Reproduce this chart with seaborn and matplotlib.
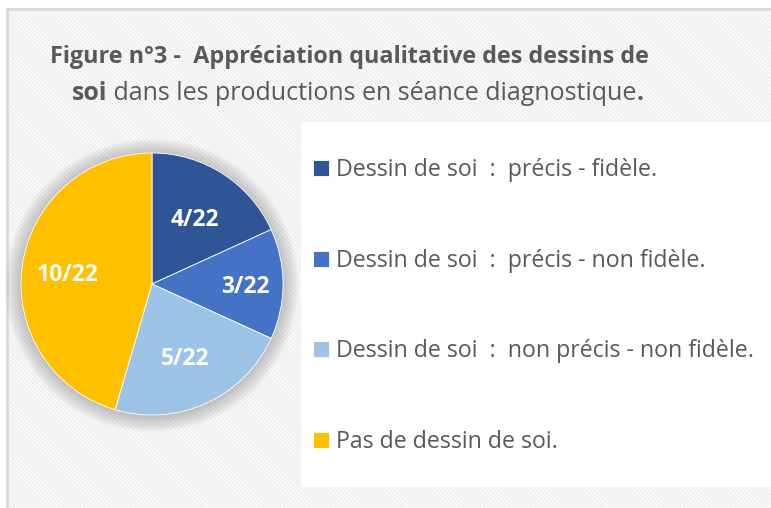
import numpy as np
import seaborn as sns
import matplotlib.pyplot as plt
from matplotlib.patches import Rectangle, Circle

# data
categories = ["Dessin de soi  :  précis - fidèle.",
              "Dessin de soi  :  précis - non fidèle.",
              "Dessin de soi  :  non précis - non fidèle.",
              "Pas de dessin de soi."]
counts = [4, 3, 5, 10]
total = 22
colors = ["#2F5597", "#4472C4", "#9DC3E6", "#FFC000"]
label_dist = [0.60, 0.71, 0.61, 0.65]

sns.set_theme(style="white")
plt.rcParams['font.family'] = ['Open Sans', 'DejaVu Sans']
TXT = "#595959"

W, H = 771, 508
fig = plt.figure(figsize=(W / 100, H / 100), dpi=100)
fig.patch.set_facecolor("white")

#background with diagonal stripes
plt.rcParams['hatch.color'] = "#eeeeee"
plt.rcParams['hatch.linewidth'] = 1.4
bg = Rectangle((7 / W, 0), 1 - 7 / W, 1 - 9 / H, transform=fig.transFigure,
               facecolor="white", edgecolor="#eeeeee", hatch="\\" * 8, lw=0, zorder=0)
fig.patches.append(bg)
fig.add_artist(plt.Line2D([7 / W, 7 / W], [0, 1 - 9 / H], color="#d9d9d9", lw=2,
                          transform=fig.transFigure))
fig.add_artist(plt.Line2D([7 / W, 1], [1 - 9 / H, 1 - 9 / H], color="#d9d9d9", lw=2,
                          transform=fig.transFigure))

# white legend panel
panel = Rectangle((301 / W, 1 - 487 / H), 1 - 301 / W, (487 - 122) / H,
                  transform=fig.transFigure, facecolor="white", edgecolor="none", zorder=1)
fig.patches.append(panel)

# pie
cx, cy, r = 152, 284, 131
ax = fig.add_axes([(cx - r) / W, (H - cy - r) / H, 2 * r / W, 2 * r / H])
ax.set_facecolor("none")
ax.set_zorder(2)
for i in range(16):
    ax.add_patch(Circle((0, -0.01), 1.0 + i * 0.008, color="#808080", alpha=0.03,
                        lw=0, clip_on=False, zorder=0))
wedges, texts, autotexts = ax.pie(
    counts, colors=colors, startangle=90, counterclock=False,
    autopct=lambda p: f"{int(round(p * total / 100))}/{total}", pctdistance=1.0,
    wedgeprops=dict(linewidth=0.6, edgecolor="white"),
    textprops=dict(color="white", fontsize=16.5, fontweight="bold"))
for w in wedges:
    w.set_zorder(3)
# move each label along its wedge's mid-angle
for t, d in zip(autotexts, label_dist):
    px, py = t.get_position()
    t.set_position((px * d, py * d - 0.02))
    t.set_zorder(4)
ax.set_xlim(-1, 1)
ax.set_ylim(-1, 1)
ax.set_aspect("equal")
ax.axis("off")

# legend
leg = fig.legend(wedges, categories, loc="upper left",
                 bbox_to_anchor=(292 / W, 1 - 137 / H), frameon=False,
                 fontsize=16.7, labelspacing=2.88, handlelength=0.68, handleheight=0.68,
                 handletextpad=0.3, labelcolor=TXT)
leg.set_zorder(5)

# title, mixed weights
fig.text(50 / W, 1 - 57 / H, "Figure n°3 -  Appréciation qualitative des dessins de",
         fontsize=16.8, fontweight="bold", color=TXT, va="center")
fig.canvas.draw()
rend = fig.canvas.get_renderer()
x = 72
for s, wgt in [("soi", "bold"), (" dans les productions en séance diagnostique", "normal"), (".", "bold")]:
    t = fig.text(x / W, 1 - 93 / H, s, fontsize=18, fontweight=wgt, color=TXT, va="center")
    x += t.get_window_extent(rend).width

fig.savefig("out.png", dpi=100)
